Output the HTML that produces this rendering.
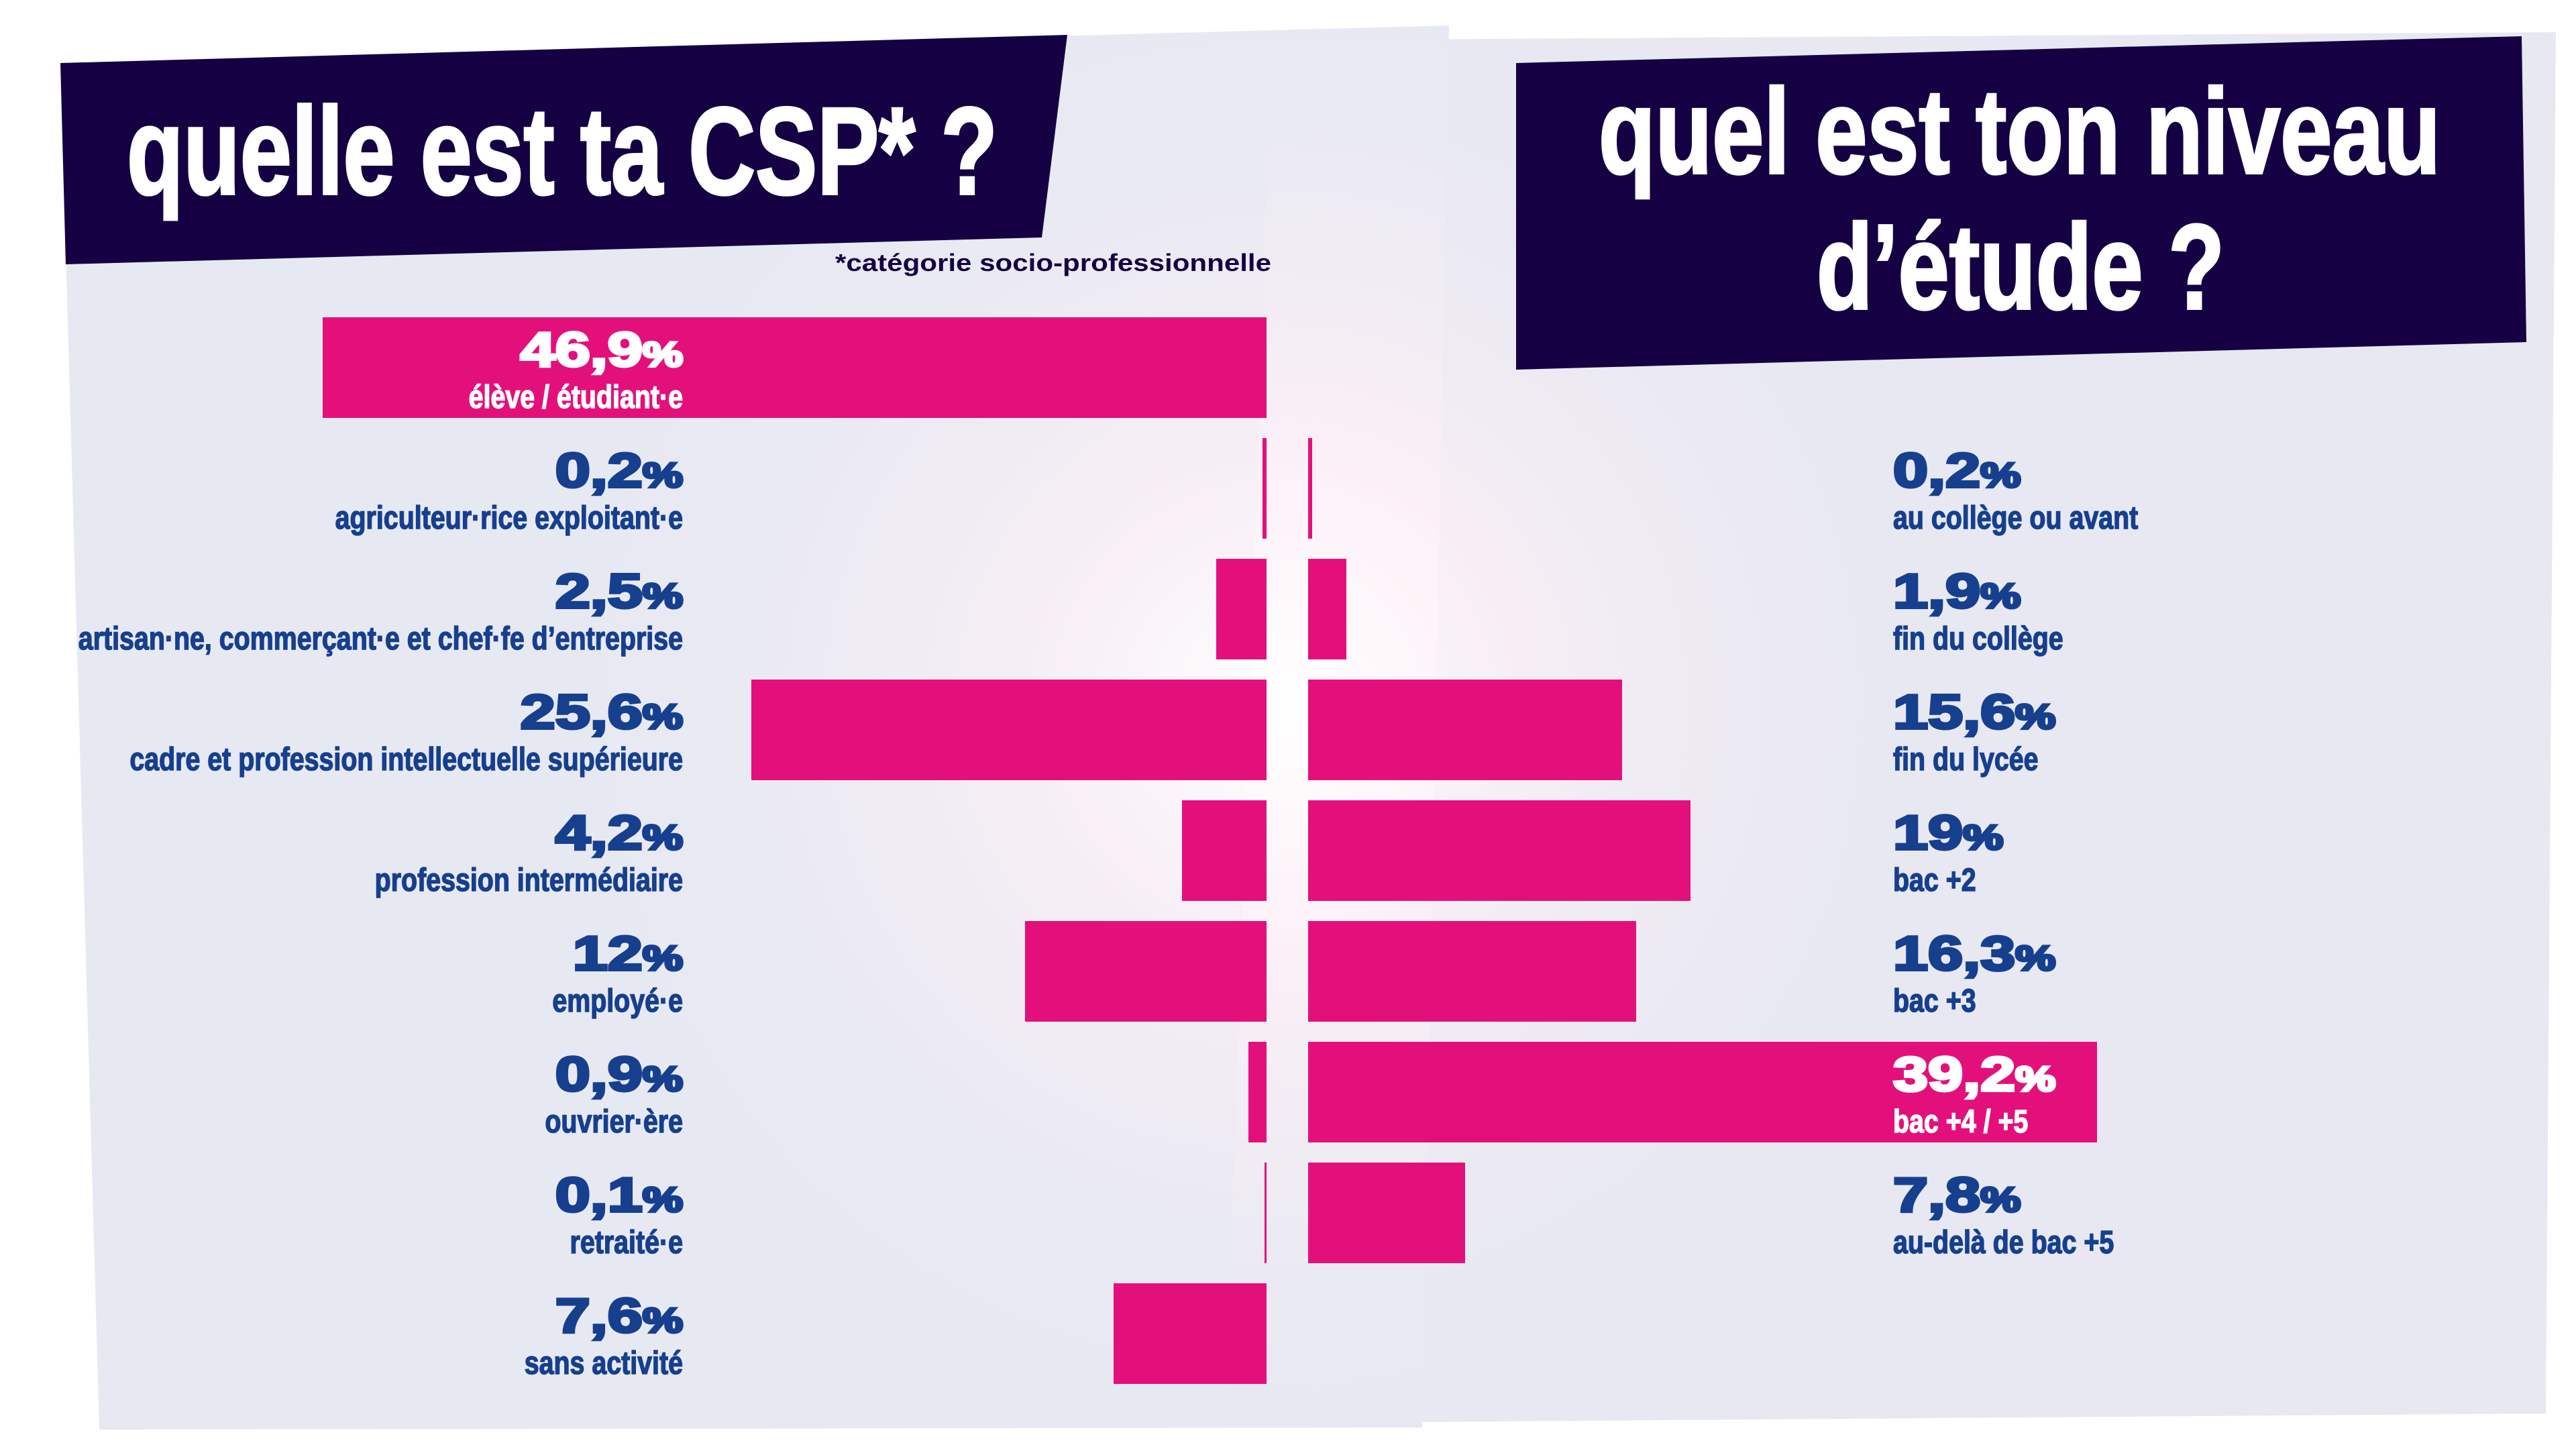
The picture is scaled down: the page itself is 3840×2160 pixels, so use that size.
<!DOCTYPE html>
<html><head><meta charset="utf-8"><style>
html,body{margin:0;padding:0;background:#fff;}
svg{display:block;}
.t{font-family:"Liberation Sans Narrow","Liberation Sans",sans-serif;font-weight:bold;}
.p{font-family:"Liberation Sans",sans-serif;font-weight:bold;}
</style></head><body>
<svg id="c" width="3840" height="2160" viewBox="0 0 3840 2160" xmlns="http://www.w3.org/2000/svg">
<defs>
<radialGradient id="glow" cx="1900" cy="1050" r="1100" gradientUnits="userSpaceOnUse">
<stop offset="0" stop-color="#fff" stop-opacity="0.95"/>
<stop offset="0.35" stop-color="#fdf0f6" stop-opacity="0.7"/>
<stop offset="1" stop-color="#e8e9f2" stop-opacity="0"/>
</radialGradient>
</defs>
<polygon points="1895,60 3810,48 3795,2107 1827,2122" fill="#e7e8f1"/>
<polygon points="90,94 2160,38 2120,2128 148,2131" fill="#e7e9f2"/>
<polygon points="90,94 2160,38 2120,2128 148,2131" fill="url(#glow)"/>
<polygon points="1895,60 3810,48 3795,2107 1827,2122" fill="url(#glow)"/>
<polygon points="90,94 1591,52 1553,354 98,394" fill="#140042"/>
<text class="t" x="189" y="289" font-size="185" fill="#fff" stroke="#fff" stroke-width="4" textLength="1298" lengthAdjust="spacingAndGlyphs">quelle est ta CSP* ?</text>
<text class="p" x="1245" y="404" font-size="36" fill="#140042" textLength="650" lengthAdjust="spacingAndGlyphs">*catégorie socio-professionnelle</text>
<polygon points="2260,94 3759,54 3766,510 2260,551" fill="#140042"/>
<text class="t" x="2383" y="258" font-size="180" fill="#fff" stroke="#fff" stroke-width="4" textLength="1255" lengthAdjust="spacingAndGlyphs">quel est ton niveau</text>
<text class="t" x="2708" y="460" font-size="180" fill="#fff" stroke="#fff" stroke-width="4" textLength="608" lengthAdjust="spacingAndGlyphs">d’étude ?</text>
<g id="bars"></g>
</svg>
<script>
const cspLabels = ["élève / étudiant·e","agriculteur·rice exploitant·e","artisan·ne, commerçant·e et chef·fe d’entreprise","cadre et profession intellectuelle supérieure","profession intermédiaire","employé·e","ouvrier·ère","retraité·e","sans activité"];
const cspValues = [46.9,0.2,2.5,25.6,4.2,12,0.9,0.1,7.6];
const cspText = ["46,9","0,2","2,5","25,6","4,2","12","0,9","0,1","7,6"];
const eduLabels = ["au collège ou avant","fin du collège","fin du lycée","bac +2","bac +3","bac +4 / +5","au-delà de bac +5"];
const eduValues = [0.2,1.9,15.6,19,16.3,39.2,7.8];
const eduText = ["0,2","1,9","15,6","19","16,3","39,2","7,8"];
const eduStartRow = 1;

const NS="http://www.w3.org/2000/svg";
const g=document.getElementById('bars');
const PX=30, AXL=1888, AXR=1950, TOP0=473, PITCH=180, BH=150;
const xL=v=>AXL-v*PX, xR=v=>AXR+v*PX, yRow=i=>TOP0+i*PITCH;
const PINK="#e3107c", BLUE="#163f8e";
function txt(x,y,s,cls,size,fill,anchor,k){
  const t=document.createElementNS(NS,'text');
  t.setAttribute('x',x);t.setAttribute('y',y);t.setAttribute('class',cls);
  t.setAttribute('font-size',size);t.setAttribute('fill',fill);t.setAttribute('text-anchor',anchor);
  t.setAttribute('stroke',fill);t.setAttribute('stroke-width',1.5);
  t.textContent=s;g.appendChild(t);
  const L=t.getComputedTextLength();
  t.setAttribute('textLength',L*k);t.setAttribute('lengthAdjust','spacingAndGlyphs');
  return t;
}
function pct(x,y,s,fill,anchor){
  const t=document.createElementNS(NS,'text');
  t.setAttribute('x',x);t.setAttribute('y',y);t.setAttribute('class','p');
  t.setAttribute('font-size',72);t.setAttribute('fill',fill);t.setAttribute('text-anchor',anchor);
  t.setAttribute('stroke',fill);t.setAttribute('stroke-width',4);
  t.textContent=s;
  const sp=document.createElementNS(NS,'tspan');sp.setAttribute('font-size',52);sp.textContent='%';t.appendChild(sp);
  g.appendChild(t);
  const L=t.getComputedTextLength();
  t.setAttribute('textLength',L*1.3);t.setAttribute('lengthAdjust','spacingAndGlyphs');
  return t;
}
cspValues.forEach((v,i)=>{
  const r=document.createElementNS(NS,'rect');
  r.setAttribute('x',xL(v));r.setAttribute('y',yRow(i));r.setAttribute('width',Math.max(v*PX,3));r.setAttribute('height',BH);r.setAttribute('fill',PINK);
  g.appendChild(r);
  
  
  const inside = xL(v)<1018;
  const col = inside?"#fff":BLUE;
  const p=pct(1018,yRow(i)+73,cspText[i],col,'end');
  
  
  const l=txt(1018,yRow(i)+135,cspLabels[i],'t',48,col,'end',0.82);
  
  
});
eduValues.forEach((v,j)=>{
  const i=j+eduStartRow;
  const r=document.createElementNS(NS,'rect');
  r.setAttribute('x',xR(0));r.setAttribute('y',yRow(i));r.setAttribute('width',Math.max(v*PX,3));r.setAttribute('height',BH);r.setAttribute('fill',PINK);
  g.appendChild(r);
  
  
  const inside = xR(v)>2900;
  const col = inside?"#fff":BLUE;
  const p=pct(2822,yRow(i)+73,eduText[j],col,'start');
  
  
  const l=txt(2822,yRow(i)+135,eduLabels[j],'t',48,col,'start',0.82);
  
  
});
</script>
</body></html>
